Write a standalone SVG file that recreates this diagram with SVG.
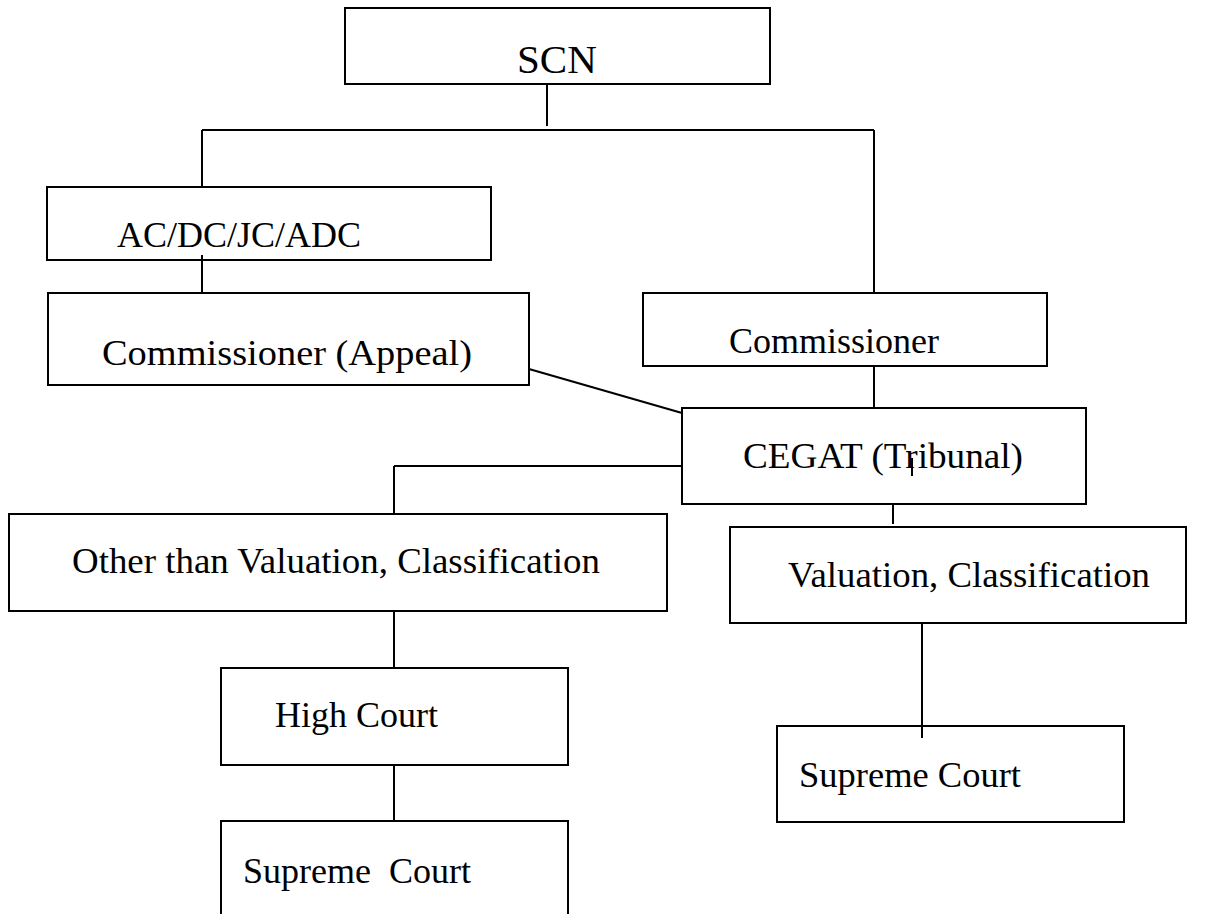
<svg xmlns="http://www.w3.org/2000/svg" width="1215" height="914" viewBox="0 0 1215 914">
<style>
.box{fill:none;stroke:#000;stroke-width:2}
.ln{stroke:#000;stroke-width:2;fill:none}
text{font-family:"Liberation Serif","Times New Roman",serif;font-size:36px;fill:#000}
</style>
<rect width="1215" height="914" fill="#fff"/>
<g id="connectors">
<line class="ln" x1="547" y1="84" x2="547" y2="126"/>
<line class="ln" x1="202" y1="130" x2="874" y2="130"/>
<line class="ln" x1="202" y1="130" x2="202" y2="187"/>
<line class="ln" x1="874" y1="130" x2="874" y2="293"/>
<line class="ln" x1="202" y1="255" x2="202" y2="293"/>
<line class="ln" x1="874" y1="366" x2="874" y2="408"/>
<line class="ln" x1="529" y1="369" x2="682" y2="413"/>
<line class="ln" x1="394" y1="466" x2="682" y2="466"/>
<line class="ln" x1="394" y1="466" x2="394" y2="514"/>
<line class="ln" x1="394" y1="611" x2="394" y2="668"/>
<line class="ln" x1="394" y1="765" x2="394" y2="821"/>
<line class="ln" x1="893" y1="504" x2="893" y2="524"/>
<line class="ln" x1="922" y1="623" x2="922" y2="738"/>
<line class="ln" x1="912" y1="458" x2="912" y2="476"/>
</g>
<g id="scn"><rect class="box" x="345" y="8" width="425" height="76"/><text x="517" y="73" style="font-size:41px">SCN</text></g>
<g id="ac"><rect class="box" x="47" y="187" width="444" height="73"/><text x="117" y="247">AC/DC/JC/ADC</text></g>
<g id="comm-appeal"><rect class="box" x="48" y="293" width="481" height="92"/><text x="102" y="365" textLength="370" lengthAdjust="spacingAndGlyphs">Commissioner (Appeal)</text></g>
<g id="commissioner"><rect class="box" x="643" y="293" width="404" height="73"/><text x="729" y="353">Commissioner</text></g>
<g id="cegat"><rect class="box" x="682" y="408" width="404" height="96"/><text x="743" y="468" textLength="280" lengthAdjust="spacingAndGlyphs">CEGAT (Tribunal)</text></g>
<g id="other"><rect class="box" x="9" y="514" width="658" height="97"/><text x="72" y="573" textLength="528" lengthAdjust="spacingAndGlyphs">Other than Valuation, Classification</text></g>
<g id="valuation"><rect class="box" x="730" y="527" width="456" height="96"/><text x="788" y="587" textLength="362" lengthAdjust="spacingAndGlyphs">Valuation, Classification</text></g>
<g id="high-court"><rect class="box" x="221" y="668" width="347" height="97"/><text x="275" y="727">High Court</text></g>
<g id="supreme-left"><rect class="box" x="221" y="821" width="347" height="120"/><text x="243" y="883" xml:space="preserve">Supreme  Court</text></g>
<g id="supreme-right"><rect class="box" x="777" y="726" width="347" height="96"/><text x="799" y="787" textLength="222" lengthAdjust="spacingAndGlyphs">Supreme Court</text></g>
</svg>
